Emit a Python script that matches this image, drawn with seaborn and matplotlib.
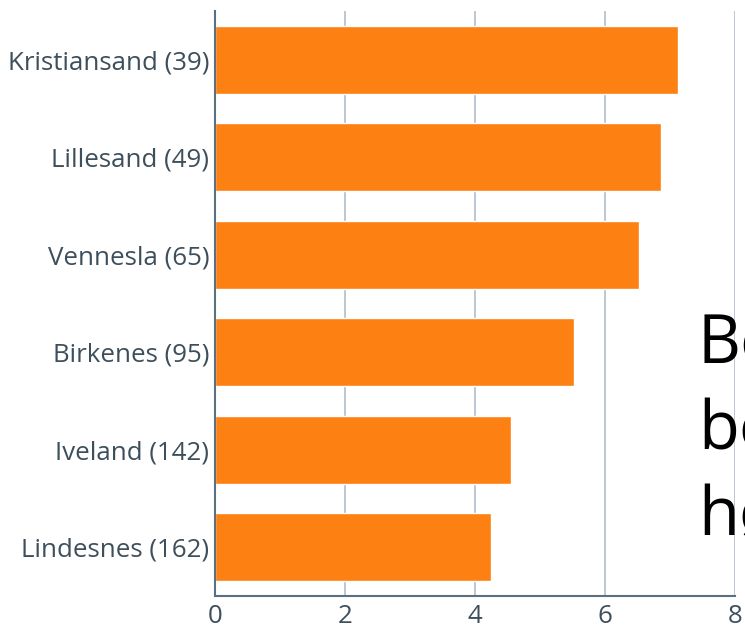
import numpy as np
import pandas as pd
import seaborn as sns
import matplotlib.pyplot as plt

# kommuner og verdier lest av figuren
kommuner = ["Kristiansand (39)", "Lillesand (49)", "Vennesla (65)",
            "Birkenes (95)", "Iveland (142)", "Lindesnes (162)"]
verdier = [7.12, 6.86, 6.53, 5.52, 4.56, 4.25]
x_ticks = [0, 2, 4, 6, 8]

df = pd.DataFrame({"Kommune": kommuner, "Verdi": verdier})

sns.set_style("white")
plt.rcParams['font.family'] = ['Open Sans', 'DejaVu Sans']

fig = plt.figure(figsize=(7.45, 6.3), dpi=100)
ax = fig.add_axes([215/745, 34/630, 520/745, 585/630])

sns.barplot(data=df, x="Verdi", y="Kommune", orient="h", color="#fd8012",
            saturation=1, width=0.7, ax=ax)

ax.set_xlim(0, 8)
ax.set_ylim(5.5, -0.5)
ax.set_xticks(x_ticks)
ax.set_xlabel("")
ax.set_ylabel("")
ax.set_axisbelow(True)
ax.grid(axis="x", color="#a9b8c6", linewidth=1.1)
ax.grid(axis="y", visible=False)
for s in ["top", "right"]:
    ax.spines[s].set_visible(False)
for s in ["left", "bottom"]:
    ax.spines[s].set_color("#5c6f7e")
    ax.spines[s].set_linewidth(1.5)
ax.tick_params(axis="y", length=0, pad=4, labelsize=18.6, labelcolor="#3e4f5c")
ax.tick_params(axis="x", length=0, pad=5.5, labelsize=18.6, labelcolor="#3e4f5c")

# stor tekst som går ut over kanten
fig.text(698/745, 1 - 312/630, "Be\nbe\nhø", fontsize=48, color="black",
         va="top", ha="left", linespacing=1.35)

fig.savefig("out.png", dpi=100)
